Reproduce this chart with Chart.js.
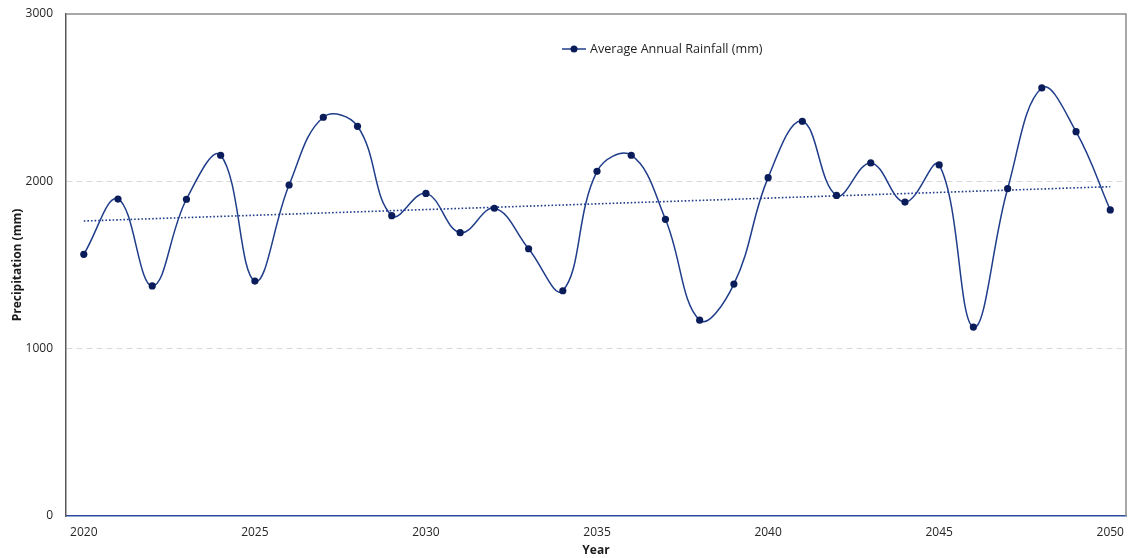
<!DOCTYPE html>
<html>
<head>
<meta charset="utf-8">
<script src="https://cdn.jsdelivr.net/npm/chart.js@4/dist/chart.umd.min.js"></script>
<style>
  html, body { margin: 0; padding: 0; background: #ffffff; overflow: hidden; }
  #wrap { width: 1130px; height: 558px; position: relative; }
</style>
</head>
<body>
<div id="wrap"><canvas id="rain"></canvas></div>
<script>
// Annual rainfall series, 2020–2050
const years = [2020, 2021, 2022, 2023, 2024, 2025, 2026, 2027, 2028, 2029,
               2030, 2031, 2032, 2033, 2034, 2035, 2036, 2037, 2038, 2039,
               2040, 2041, 2042, 2043, 2044, 2045, 2046, 2047, 2048, 2049, 2050];
const rainfall = [1564, 1894, 1375, 1893, 2156, 1404, 1978, 2383, 2329, 1795,
                  1928, 1693, 1839, 1597, 1346, 2060, 2156, 1773, 1170, 1386,
                  2022, 2359, 1916, 2110, 1876, 2098, 1129, 1956, 2558, 2297, 1829];

// Linear trend line end points
const trendYears = [2020, 2050];
const trendValues = [1763, 1968];

// Axis ticks
const yTicks = [0, 1000, 2000, 3000];
const xTicks = [2020, 2025, 2030, 2035, 2040, 2045, 2050];

const seriesLabel = 'Average Annual Rainfall (mm)';
const lineColor = '#1f3d8a';
const markerColor = '#0a1d5a';
const fontFamily = '"Open Sans", "DejaVu Sans", sans-serif';

const seriesPoints = years.map((y, i) => ({ x: y, y: rainfall[i] }));
const trendPoints = trendYears.map((y, i) => ({ x: y, y: trendValues[i] }));

// Frame on the top and right edges of the plot area
const framePlugin = {
  id: 'frame',
  beforeDatasetsDraw(chart) {
    const { ctx, chartArea: a } = chart;
    ctx.save();
    ctx.strokeStyle = '#8c8c8c';
    ctx.lineWidth = 1.5;
    ctx.beginPath();
    ctx.moveTo(a.left, a.top);
    ctx.lineTo(a.right, a.top);
    ctx.lineTo(a.right, a.bottom);
    ctx.stroke();
    ctx.restore();
  }
};

// Legend entry: a short line with a marker, then the series name
const legendPlugin = {
  id: 'lineLegend',
  afterDraw(chart) {
    const { ctx } = chart;
    const x0 = 562, y0 = 49;
    ctx.save();
    ctx.strokeStyle = lineColor;
    ctx.lineWidth = 1.5;
    ctx.beginPath();
    ctx.moveTo(x0, y0);
    ctx.lineTo(x0 + 24, y0);
    ctx.stroke();
    ctx.fillStyle = markerColor;
    ctx.beginPath();
    ctx.arc(x0 + 12, y0, 3.5, 0, Math.PI * 2);
    ctx.fill();
    ctx.fillStyle = '#1f1f1f';
    ctx.font = '12.6px ' + fontFamily;
    ctx.textBaseline = 'middle';
    ctx.textAlign = 'left';
    ctx.fillText(seriesLabel, x0 + 28, y0 + 0.5);
    ctx.restore();
  }
};

new Chart(document.getElementById('rain'), {
  type: 'line',
  data: {
    datasets: [
      {
        label: seriesLabel,
        data: seriesPoints,
        borderColor: lineColor,
        borderWidth: 1.5,
        tension: 0.4,
        pointRadius: 3.6,
        pointBackgroundColor: markerColor,
        pointBorderColor: markerColor,
        pointBorderWidth: 0,
        fill: false,
        order: 1
      },
      {
        label: 'Linear trend',
        data: trendPoints,
        borderColor: lineColor,
        borderWidth: 1.6,
        borderDash: [1.6, 2],
        pointRadius: 0,
        tension: 0,
        fill: false,
        order: 2
      }
    ]
  },
  options: {
    responsive: true,
    maintainAspectRatio: false,
    animation: false,
    layout: { padding: { top: 14, right: 0, left: 0, bottom: 0 } },
    plugins: {
      legend: { display: false },
      tooltip: { enabled: false }
    },
    scales: {
      x: {
        type: 'linear',
        min: 2019.48,
        max: 2050.46,
        afterFit(scale) {
          scale.height = 42;
          scale.paddingLeft = 0;
          scale.paddingRight = 0;
        },
        afterBuildTicks(scale) { scale.ticks = xTicks.map(v => ({ value: v })); },
        ticks: {
          includeBounds: false,
          padding: 9,
          color: '#262626',
          font: { family: fontFamily, size: 12 },
          maxRotation: 0,
          callback: v => String(v)
        },
        grid: { display: false, drawTicks: false },
        border: { display: true, color: '#2c4c9c', width: 1.5 },
        title: {
          display: true,
          text: 'Year',
          color: '#1a1a1a',
          font: { family: fontFamily, size: 12, weight: 'bold' },
          padding: { top: 0, bottom: 0 }
        }
      },
      y: {
        min: 0,
        max: 3000,
        afterFit(scale) {
          scale.width = 66;
          scale.paddingTop = 0;
          scale.paddingBottom = 0;
        },
        afterBuildTicks(scale) { scale.ticks = yTicks.map(v => ({ value: v })); },
        ticks: {
          padding: 13,
          color: '#262626',
          font: { family: fontFamily, size: 12 },
          callback: v => String(v)
        },
        grid: {
          drawTicks: false,
          color: c => (c.tick && (c.tick.value === 1000 || c.tick.value === 2000)) ? '#d9d9d9' : 'rgba(0,0,0,0)',
          lineWidth: 1
        },
        border: { display: true, color: '#595959', width: 1.5, dash: [6, 4] },
        title: {
          display: true,
          text: 'Precipitation (mm)',
          color: '#1a1a1a',
          font: { family: fontFamily, size: 12, weight: 'bold' },
          padding: { top: 10, bottom: 0 }
        }
      }
    }
  },
  plugins: [framePlugin, legendPlugin]
});
</script>
</body>
</html>
